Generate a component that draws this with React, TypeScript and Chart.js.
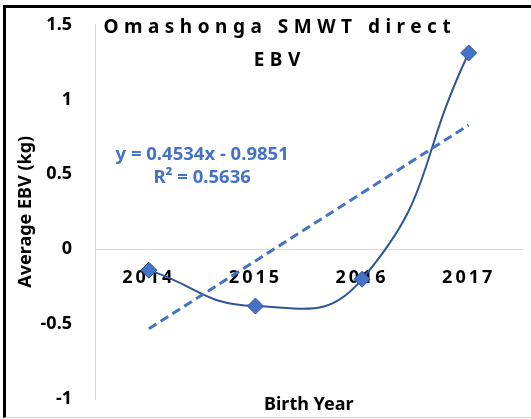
import React, { useEffect, useRef } from 'react';
import { Chart, registerables } from 'chart.js';

Chart.register(...registerables);

const categories = ['2014', '2015', '2016', '2017'];
const ebvValues = [-0.14, -0.38, -0.2, 1.31];
const trendValues = [-0.5317, -0.0783, 0.3751, 0.8285];
const yMin = -1;
const yMax = 1.5;
const yStep = 0.5;
const titleLines = ['Omashonga SMWT direct', 'EBV'];
const equationLines = ['y = 0.4534x - 0.9851', 'R² = 0.5636'];
const yAxisTitle = 'Average EBV (kg)';
const xAxisTitle = 'Birth Year';

const FONT = '"Noto Sans", Roboto, "Liberation Sans", sans-serif';

export default function App() {
  const ref = useRef<HTMLCanvasElement>(null);

  useEffect(() => {
    const canvas = ref.current;
    if (!canvas) return;

    const textPlugin = {
      id: 'textPlugin',
      beforeDraw(chart: any) {
        chart.ctx.letterSpacing = '3px';
      },
      afterDatasetsDraw(chart: any) {
        chart.ctx.letterSpacing = '0px';
      },
      afterDraw(chart: any) {
        const { ctx, chartArea, scales } = chart;
        ctx.save();
        ctx.textAlign = 'center';
        ctx.textBaseline = 'middle';
        ctx.letterSpacing = '5.5px';
        ctx.font = `bold 19px ${FONT}`;
        ctx.fillStyle = '#000000';
        const tx = scales.x.getPixelForValue(1.2) + 3;
        titleLines.forEach((t, i) => ctx.fillText(t, tx, chartArea.top + 3 + i * 33.5));
        ctx.letterSpacing = '0px';
        ctx.font = `bold 18.5px ${FONT}`;
        ctx.fillStyle = '#4472C4';
        const ex = scales.x.getPixelForValue(0.5);
        const ey = scales.y.getPixelForValue(0.63);
        equationLines.forEach((t, i) => ctx.fillText(t, ex, ey + i * 23));
        ctx.restore();
        ctx.letterSpacing = '0px';
      },
    };

    const chart = new Chart(canvas, {
      type: 'line',
      data: {
        labels: categories,
        datasets: [
          {
            label: 'Linear trend',
            data: trendValues,
            borderColor: '#4472C4',
            borderWidth: 3,
            borderDash: [9, 5],
            pointRadius: 0,
            tension: 0,
            fill: false,
          },
          {
            label: 'Average EBV',
            data: ebvValues,
            borderColor: '#2F5597',
            borderWidth: 2,
            tension: 0.5,
            pointStyle: 'rectRot',
            pointRadius: 8,
            pointBackgroundColor: '#4472C4',
            pointBorderColor: '#2F5597',
            pointBorderWidth: 1,
            fill: false,
          },
        ],
      },
      options: {
        animation: false,
        responsive: false,
        layout: { padding: { left: 6, top: 24.5, right: 7, bottom: 20 } },
        plugins: {
          legend: { display: false },
          tooltip: { enabled: false },
          title: { display: false },
        },
        scales: {
          x: {
            type: 'category',
            position: { y: 0 } as any,
            offset: true,
            grid: { display: false, drawTicks: false },
            border: { display: true, color: '#D9D9D9', width: 1 },
            ticks: {
              autoSkip: false,
              maxRotation: 0,
              padding: 18,
              color: '#000000',
              font: { family: FONT, size: 18, weight: 'bold' },
            },
          },
          x2: {
            type: 'category',
            position: { y: -1 } as any,
            offset: true,
            grid: { display: false, drawTicks: false, z: 1 },
            border: { display: false },
            ticks: { display: false },
            title: {
              display: true,
              text: xAxisTitle,
              color: '#000000',
              font: { family: FONT, size: 18, weight: 'bold' },
              padding: { top: -5, bottom: 0 },
            },
          },
          y: {
            type: 'linear',
            min: yMin,
            max: yMax,
            ticks: {
              stepSize: yStep,
              padding: 0,
              color: '#000000',
              font: { family: FONT, size: 18, weight: 'bold' },
              z: 1,
              callback: (v: any) => String(Math.round(Number(v) * 10) / 10),
            },
            grid: { display: false, drawTicks: true, tickLength: 23.5, z: 1 },
            border: { display: true, color: '#D9D9D9', width: 1, z: 1 },
            title: {
              display: true,
              text: yAxisTitle,
              color: '#000000',
              font: { family: FONT, size: 18, weight: 'bold' },
              padding: { top: 9, bottom: 0 },
            },
            afterFit: (scale: any) => {
              scale.width = 89.5;
            },
          },
        },
      },
      plugins: [textPlugin],
    });

    return () => chart.destroy();
  }, []);

  return (
    <div style={{ position: 'fixed', left: 0, top: 0, width: 531, height: 419, background: '#ffffff', overflow: 'hidden' }}>
      <canvas ref={ref} width={531} height={419} style={{ position: 'absolute', left: 0, top: 0, width: 531, height: 419 }} />
      <div
        style={{
          position: 'absolute',
          left: 3,
          top: 5,
          width: 528,
          height: 413,
          boxSizing: 'border-box',
          borderTop: '3px solid #000000',
          borderLeft: '3px solid #000000',
          borderBottom: '1px solid #D9D9D9',
          pointerEvents: 'none',
        }}
      />
    </div>
  );
}
